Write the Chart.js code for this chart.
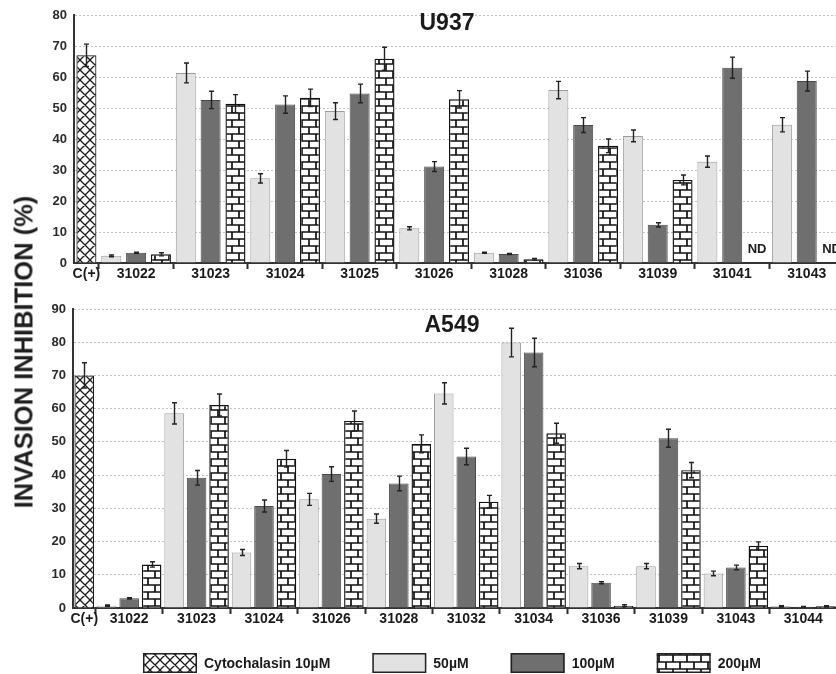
<!DOCTYPE html>
<html>
<head>
<meta charset="utf-8">
<script src="https://cdn.jsdelivr.net/npm/chart.js@4.4.1/dist/chart.umd.min.js"></script>
<style>
  html, body { margin: 0; padding: 0; background: #fff; }
  body { position: relative; width: 836px; height: 674px; overflow: hidden; }
  canvas { position: absolute; left: 0; display: block; }
  #topChart { top: 0; }
  #bottomChart { top: 290px; }
  #ytitle {
    position: absolute; left: 24px; top: 352px;
    transform: translate(-50%, -50%) rotate(-90deg);
    font: bold 25.5px "Liberation Sans", Arial, sans-serif;
    color: #1e1e1e; white-space: nowrap;
  }
</style>
</head>
<body>
<canvas id="topChart" width="846" height="290"></canvas>
<canvas id="bottomChart" width="842" height="384"></canvas>
<div id="ytitle">INVASION INHIBITION (%)</div>
<script>
// ---- U937 panel ----
const u937Compounds = ['31022', '31023', '31024', '31025', '31026', '31028', '31036', '31039', '31041', '31043'];
const u937Control = 67.0, u937ControlErr = 3.6;
const u937At50 = [2.3, 61.3, 27.3, 49.0, 11.2, 3.3, 55.8, 41.0, 32.7, 44.6];
const u937Err50 = [0.3, 3.2, 1.5, 2.7, 0.5, 0.2, 2.8, 1.9, 1.8, 2.3];
const u937At100 = [3.3, 52.6, 51.1, 54.7, 31.1, 2.9, 44.5, 12.3, 63.0, 58.7];
const u937Err100 = [0.2, 2.8, 2.8, 3.0, 1.6, 0.2, 2.4, 0.7, 3.4, 3.2];
const u937At200 = [2.8, 51.4, 53.3, 65.9, 52.8, 1.2, 37.8, 26.8, null, null];
const u937Err200 = [0.5, 2.9, 2.8, 3.7, 2.8, 0.3, 2.2, 1.6, null, null];
const u937NotDetermined = ['31041', '31043'];
const u937Ticks = [0, 10, 20, 30, 40, 50, 60, 70, 80];

// ---- A549 panel ----
const a549Compounds = ['31022', '31023', '31024', '31026', '31028', '31032', '31034', '31036', '31039', '31043', '31044'];
const a549Control = 70.0, a549ControlErr = 3.8;
const a549At50 = [0.7, 58.6, 16.7, 32.7, 26.9, 64.6, 79.9, 12.6, 12.6, 10.4, 0.5];
const a549Err50 = [0.2, 3.2, 0.9, 1.8, 1.4, 3.2, 4.3, 0.8, 0.8, 0.7, 0.2];
const a549At100 = [2.9, 39.2, 30.7, 40.3, 37.5, 45.6, 76.9, 7.6, 51.1, 12.2, 0.4];
const a549Err100 = [0.2, 2.2, 1.8, 2.2, 2.2, 2.5, 4.3, 0.3, 2.7, 0.7, 0.1];
const a549At200 = [13.1, 61.1, 44.9, 56.3, 49.4, 32.0, 52.6, 0.7, 41.5, 18.7, 0.5];
const a549Err200 = [0.8, 3.3, 2.5, 3.0, 2.7, 1.9, 3.0, 0.3, 2.3, 1.2, 0.2];
const a549Ticks = [0, 10, 20, 30, 40, 50, 60, 70, 80, 90];

const controlLabel = 'C(+)';
const seriesNames = ['Cytochalasin 10\u00b5M', '50\u00b5M', '100\u00b5M', '200\u00b5M'];

const FONT = '"Liberation Sans", Arial, sans-serif';

// Fill patterns for the control and the highest dose
function crossHatch() {
  const c = document.createElement('canvas');
  c.width = 10; c.height = 10;
  const g = c.getContext('2d');
  g.fillStyle = '#fff'; g.fillRect(0, 0, 10, 10);
  g.strokeStyle = '#1a1a1a'; g.lineWidth = 1.3;
  g.beginPath();
  for (const o of [-10, 0, 10]) {
    g.moveTo(o, 0); g.lineTo(o + 10, 10);
    g.moveTo(o + 10, 0); g.lineTo(o, 10);
  }
  g.stroke();
  return g.createPattern(c, 'repeat');
}
function bricks() {
  const c = document.createElement('canvas');
  c.width = 14; c.height = 14;
  const g = c.getContext('2d');
  g.fillStyle = '#fff'; g.fillRect(0, 0, 14, 14);
  g.strokeStyle = '#111'; g.lineWidth = 1.7;
  g.beginPath();
  g.moveTo(0, 1); g.lineTo(14, 1);
  g.moveTo(0, 8); g.lineTo(14, 8);
  g.moveTo(1, 1); g.lineTo(1, 8);
  g.moveTo(8, 8); g.lineTo(8, 15);
  g.moveTo(8, -1); g.lineTo(8, 1);
  g.stroke();
  return g.createPattern(c, 'repeat');
}

// One slot for the control, then three slots (50/100/200) per compound
function slotSeries(n, control, s50, s100, s200) {
  const len = 1 + 3 * n;
  const out = [0, 1, 2, 3].map(() => new Array(len).fill(null));
  out[0][0] = control;
  for (let i = 0; i < n; i++) {
    out[1][1 + 3 * i] = s50[i];
    out[2][2 + 3 * i] = s100[i];
    out[3][3 + 3 * i] = s200[i];
  }
  return out;
}

const errorBars = {
  id: 'errorBars',
  afterDatasetsDraw(chart) {
    const ctx = chart.ctx, y = chart.scales.y;
    ctx.save();
    ctx.strokeStyle = '#222';
    ctx.lineWidth = 1.4;
    chart.data.datasets.forEach((ds, di) => {
      const meta = chart.getDatasetMeta(di);
      ds.data.forEach((v, i) => {
        const e = ds.errors[i];
        if (v == null || e == null) return;
        const bar = meta.data[i];
        const x = Math.round(bar.x) + 0.5;
        const yt = y.getPixelForValue(v + e), yb = y.getPixelForValue(Math.max(v - e, 0));
        ctx.beginPath();
        ctx.moveTo(x, yb); ctx.lineTo(x, yt);
        ctx.moveTo(x - 2.5, yt); ctx.lineTo(x + 2.5, yt);
        ctx.moveTo(x - 2.5, yb); ctx.lineTo(x + 2.5, yb);
        ctx.stroke();
      });
    });
    ctx.restore();
  }
};

const annotations = {
  id: 'annotations',
  afterDraw(chart, args, opts) {
    const ctx = chart.ctx;
    ctx.save();
    ctx.fillStyle = '#1a1a1a';
    ctx.font = 'bold 23px ' + FONT;
    ctx.textAlign = 'center';
    ctx.textBaseline = 'middle';
    ctx.fillText(opts.title, opts.titleX, opts.titleY);
    // "not determined" markers sit in the empty 200 µM slot
    ctx.font = 'bold 13px ' + FONT;
    ctx.textBaseline = 'bottom';
    (opts.notDetermined || []).forEach(name => {
      const slot = 3 + 3 * opts.compounds.indexOf(name);
      const x = chart.scales.x.getPixelForValue(slot);
      ctx.fillText('ND', x, chart.scales.y.getPixelForValue(0) - 7);
    });
    // legend row built from the dataset styles
    const lg = opts.legend;
    if (lg) {
      ctx.font = 'bold ' + lg.fontSize + 'px ' + FONT;
      ctx.textAlign = 'left';
      ctx.textBaseline = 'middle';
      let x = lg.x;
      chart.data.datasets.forEach(ds => {
        ctx.fillStyle = ds.backgroundColor;
        ctx.fillRect(x, lg.y, lg.boxW, lg.boxH);
        ctx.strokeStyle = '#222';
        ctx.lineWidth = 1.5;
        ctx.strokeRect(x + 0.75, lg.y + 0.75, lg.boxW - 1.5, lg.boxH - 1.5);
        ctx.fillStyle = '#1a1a1a';
        const tx = x + lg.boxW + lg.textGap;
        ctx.fillText(ds.label, tx, lg.y + lg.boxH / 2 + 1);
        x = tx + ctx.measureText(ds.label).width + lg.itemGap;
      });
    }
    ctx.restore();
  }
};

function buildChart(id, cfg) {
  const n = cfg.compounds.length;
  const series = slotSeries(n, cfg.control, cfg.s50, cfg.s100, cfg.s200);
  const errs = slotSeries(n, cfg.controlErr, cfg.e50, cfg.e100, cfg.e200);
  const labels = [controlLabel];
  cfg.compounds.forEach(c => labels.push('', c, ''));
  const styles = [
    { backgroundColor: crossHatch(), borderColor: '#1a1a1a', borderWidth: 1.2 },
    { backgroundColor: '#e2e2e2', borderColor: '#9c9c9c', borderWidth: 1 },
    { backgroundColor: '#6f6f6f', borderColor: '#4a4a4a', borderWidth: 1 },
    { backgroundColor: bricks(), borderColor: '#111', borderWidth: 1.4 }
  ];
  const datasets = series.map((d, k) => Object.assign({
    label: seriesNames[k],
    data: d,
    errors: errs[k],
    barPercentage: cfg.barPct,
    categoryPercentage: 1
  }, styles[k]));

  return new Chart(document.getElementById(id), {
    type: 'bar',
    data: { labels, datasets },
    plugins: [errorBars, annotations],
    options: {
      responsive: false,
      animation: false,
      devicePixelRatio: 1,
      layout: { padding: cfg.padding },
      plugins: {
        tooltip: { enabled: false },
        legend: { display: false },
        annotations: {
          title: cfg.title, titleX: cfg.titleX, titleY: cfg.titleY,
          notDetermined: cfg.notDetermined, compounds: cfg.compounds,
          legend: cfg.legend
        }
      },
      scales: {
        x: {
          stacked: true,
          offset: true,
          grid: {
            offset: true,
            drawOnChartArea: false,
            drawTicks: true,
            tickLength: 6,
            tickWidth: 2,
            tickColor: c => (c.index !== undefined && c.index >= 1 && (c.index - 1) % 3 === 0) ? '#2a2a2a' : 'rgba(0,0,0,0)'
          },
          border: { color: '#333', width: 2 },
          ticks: {
            autoSkip: false, maxRotation: 0, padding: -3,
            color: '#1a1a1a',
            font: { family: FONT, size: 14, weight: 'bold' }
          },
          afterFit: s => { s.height = cfg.xHeight; }
        },
        y: {
          min: 0, max: cfg.yTicks[cfg.yTicks.length - 1],
          afterBuildTicks: s => { s.ticks = cfg.yTicks.map(v => ({ value: v })); },
          grid: { color: '#c2c2c2', lineWidth: 1, drawTicks: false },
          border: { color: '#333', width: 2, dash: [2, 2] },
          ticks: {
            padding: 7, color: '#2a2a2a',
            font: { family: FONT, size: 13, weight: 'bold' }
          },
          afterFit: s => { s.width = cfg.yWidth; }
        }
      }
    }
  });
}

buildChart('topChart', {
  compounds: u937Compounds,
  control: u937Control, controlErr: u937ControlErr,
  s50: u937At50, e50: u937Err50,
  s100: u937At100, e100: u937Err100,
  s200: u937At200, e200: u937Err200,
  notDetermined: u937NotDetermined,
  yTicks: u937Ticks,
  title: 'U937', titleX: 447, titleY: 24,
  barPct: 0.805,
  padding: { top: 15, right: 2, left: 0, bottom: 0 },
  xHeight: 27, yWidth: 74,
  legend: null
});

buildChart('bottomChart', {
  compounds: a549Compounds,
  control: a549Control, controlErr: a549ControlErr,
  s50: a549At50, e50: a549Err50,
  s100: a549At100, e100: a549Err100,
  s200: a549At200, e200: a549Err200,
  notDetermined: [],
  yTicks: a549Ticks,
  title: 'A549', titleX: 452, titleY: 36,
  barPct: 0.87,
  padding: { top: 19, right: 5, left: 0, bottom: 40 },
  xHeight: 26, yWidth: 73,
  legend: { x: 143, y: 363, boxW: 54, boxH: 20, textGap: 7, itemGap: 42, fontSize: 14 }
});
</script>
</body>
</html>
